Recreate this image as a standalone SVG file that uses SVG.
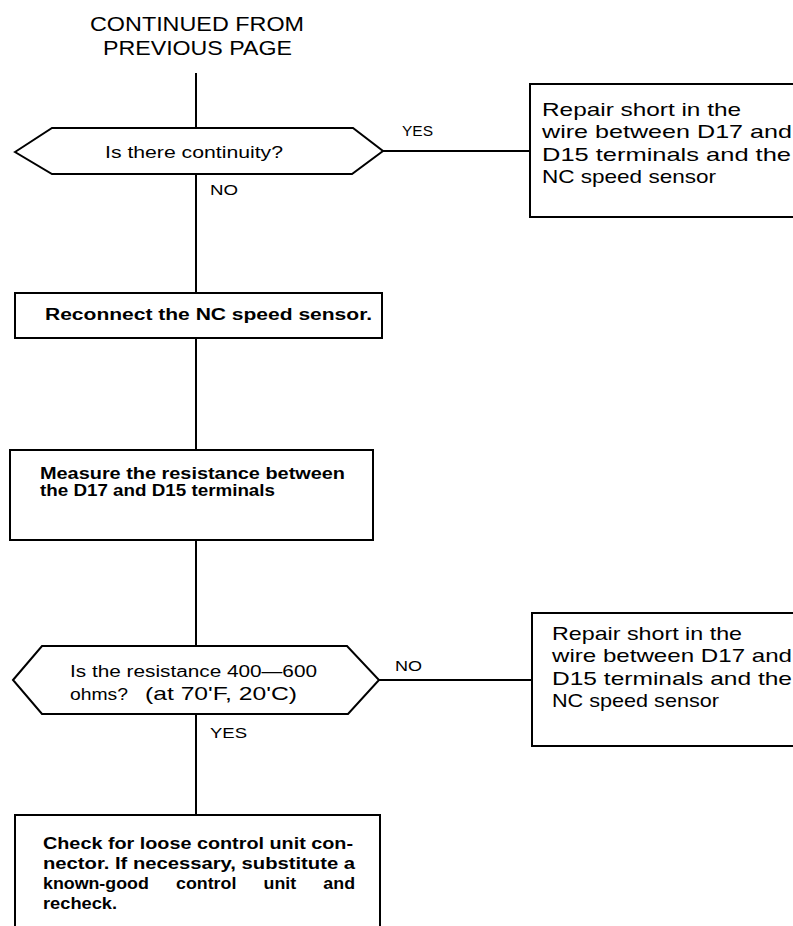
<svg xmlns="http://www.w3.org/2000/svg" width="793" height="926" viewBox="0 0 793 926">
<style>
.shape{fill:none;stroke:#000;stroke-width:2}
.conn{fill:none;stroke:#000;stroke-width:2}
text{font-family:"Liberation Sans",Arial,sans-serif;fill:#000}
.t{font-size:16px}
.b{font-size:19px}
.lbl{font-size:15px}
.bold{font-weight:bold}
</style>
<rect width="793" height="926" fill="#fff"/>
<g id="title">
<text x="90" y="31" font-size="21" textLength="214" lengthAdjust="spacingAndGlyphs">CONTINUED FROM</text>
<text x="103" y="55" font-size="21" textLength="189" lengthAdjust="spacingAndGlyphs">PREVIOUS PAGE</text>
</g>
<g id="connectors">
<line class="conn" x1="196" y1="73" x2="196" y2="128"/>
<line class="conn" x1="196" y1="174" x2="196" y2="293"/>
<line class="conn" x1="196" y1="338" x2="196" y2="450"/>
<line class="conn" x1="196" y1="540" x2="196" y2="646"/>
<line class="conn" x1="196" y1="714" x2="196" y2="815"/>
<line class="conn" x1="383" y1="151" x2="530" y2="151"/>
<line class="conn" x1="379" y1="680" x2="532" y2="680"/>
<text class="lbl" x="402" y="136" textLength="31" lengthAdjust="spacingAndGlyphs">YES</text>
<text class="lbl" x="210" y="195" textLength="28" lengthAdjust="spacingAndGlyphs">NO</text>
<text class="lbl" x="395" y="671" textLength="27" lengthAdjust="spacingAndGlyphs">NO</text>
<text class="lbl" x="210" y="738" textLength="37" lengthAdjust="spacingAndGlyphs">YES</text>
</g>
<g id="decision1">
<polygon class="shape" points="15,152 52,128 353,128 383,151 352,174 52,174"/>
<text class="t" x="105" y="158" textLength="178" lengthAdjust="spacingAndGlyphs">Is there continuity?</text>
</g>
<g id="repair1">
<rect class="shape" x="530" y="84" width="280" height="133"/>
<text class="b" x="542" y="116" textLength="199" lengthAdjust="spacingAndGlyphs">Repair short in the</text>
<text class="b" x="542" y="138" textLength="250" lengthAdjust="spacingAndGlyphs">wire between D17 and</text>
<text class="b" x="542" y="161" textLength="249" lengthAdjust="spacingAndGlyphs">D15 terminals and the</text>
<text class="b" x="542" y="183" textLength="174" lengthAdjust="spacingAndGlyphs">NC speed sensor</text>
</g>
<g id="reconnect">
<rect class="shape" x="15" y="293" width="367" height="45"/>
<text class="t" x="45" y="320" textLength="327" lengthAdjust="spacingAndGlyphs" font-weight="bold">Reconnect the NC speed sensor.</text>
</g>
<g id="measure">
<rect class="shape" x="10" y="450" width="363" height="90"/>
<text class="t" x="40" y="479" textLength="305" lengthAdjust="spacingAndGlyphs" font-weight="bold">Measure the resistance between</text>
<text class="t" x="40" y="496" textLength="235" lengthAdjust="spacingAndGlyphs" font-weight="bold">the D17 and D15 terminals</text>
</g>
<g id="decision2">
<polygon class="shape" points="13,680 42,646 347,646 379,680 348,714 42,714"/>
<text class="t" x="70" y="677" textLength="247" lengthAdjust="spacingAndGlyphs">Is the resistance 400—600</text>
<text class="t" x="70" y="700" textLength="58" lengthAdjust="spacingAndGlyphs">ohms?</text>
<text x="145" y="700" font-size="19" textLength="152" lengthAdjust="spacingAndGlyphs">(at 70'F, 20'C)</text>
</g>
<g id="repair2">
<rect class="shape" x="532" y="613" width="280" height="133"/>
<text class="b" x="552" y="640" textLength="190" lengthAdjust="spacingAndGlyphs">Repair short in the</text>
<text class="b" x="552" y="662" textLength="240" lengthAdjust="spacingAndGlyphs">wire between D17 and</text>
<text class="b" x="552" y="685" textLength="240" lengthAdjust="spacingAndGlyphs">D15 terminals and the</text>
<text class="b" x="552" y="707" textLength="167" lengthAdjust="spacingAndGlyphs">NC speed sensor</text>
</g>
<g id="check">
<rect class="shape" x="15" y="815" width="365" height="130"/>
<text class="t bold" x="43" y="849" textLength="310" lengthAdjust="spacingAndGlyphs">Check for loose control unit con-</text>
<text class="t bold" x="43" y="869" textLength="312" lengthAdjust="spacingAndGlyphs">nector. If necessary, substitute a</text>
<text class="t bold" x="43" y="889" textLength="312" lengthAdjust="spacingAndGlyphs" word-spacing="20">known-good control unit and</text>
<text class="t bold" x="43" y="909" textLength="74" lengthAdjust="spacingAndGlyphs">recheck.</text>
</g>
</svg>
